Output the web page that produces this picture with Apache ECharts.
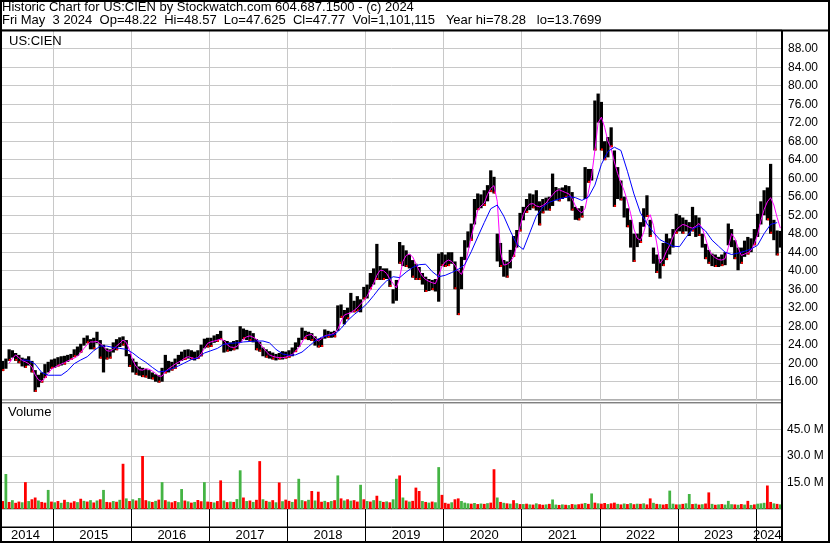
<!DOCTYPE html>
<html>
<head>
<meta charset="utf-8">
<title>US:CIEN historic chart</title>
<script src="https://cdn.jsdelivr.net/npm/echarts@6/dist/echarts.min.js"></script>
<style>
  html, body { margin: 0; padding: 0; background: #fff; }
  #chart { width: 830px; height: 543px; }
</style>
</head>
<body>
<div id="chart"></div>
<script>
// semi-monthly high / low, May 2014 .. Apr 2024 (one row per year)
const high = [
  20.5, 21.0, 23.0, 22.8, 22.2, 21.8, 21.2, 21.0, 21.5, 20.5, 18.5, 17.5, 18.0, 19.8, 20.3, 20.8,
  21.0, 21.3, 21.5, 21.6, 21.8, 22.0, 23.0, 23.6, 24.2, 25.5, 26.0, 25.2, 25.5, 26.8, 25.0, 24.0, 23.2, 23.0, 24.5, 25.2, 25.6, 25.8, 25.0, 22.0,
  21.0, 20.3, 19.3, 19.0, 18.8, 18.5, 18.0, 17.6, 17.4, 19.0, 21.8, 20.5, 20.3, 21.0, 21.8, 22.5, 22.9, 23.0, 22.8, 22.5, 22.8, 24.0, 25.3, 25.5,
  25.5, 26.0, 26.3, 27.0, 25.0, 24.8, 24.5, 24.8, 25.0, 28.0, 27.5, 27.2, 27.0, 26.5, 25.2, 24.6, 23.4, 23.0, 22.6, 22.3, 22.0, 22.2, 22.6, 22.5,
  22.8, 23.4, 24.5, 25.5, 27.7, 27.0, 26.8, 26.5, 25.8, 25.3, 25.5, 27.3, 27.0, 26.8, 27.0, 32.5, 32.7, 31.5, 32.0, 35.2, 33.5, 34.5, 33.8, 36.5,
  37.0, 39.5, 40.5, 45.8, 41.0, 40.5, 40.5, 40.0, 36.0, 38.0, 46.2, 45.5, 44.4, 43.5, 42.3, 41.5, 40.8, 39.5, 38.7, 38.2, 38.0, 38.2, 43.7, 44.0,
  43.5, 44.0, 44.0, 42.0, 40.0, 43.0, 46.6, 48.5, 50.2, 55.5, 56.7, 56.5, 57.4, 58.5, 61.7, 60.3, 48.0, 46.0, 42.3, 42.0, 44.5, 47.5, 48.8, 52.5,
  53.8, 55.5, 56.7, 56.5, 57.4, 55.0, 55.5, 55.8, 56.0, 61.0, 58.1, 57.8, 58.0, 58.5, 58.3, 57.0, 53.8, 53.5, 54.0, 62.4, 62.0, 62.0, 76.8, 78.3,
  76.5, 68.0, 68.9, 71.0, 66.0, 62.4, 59.5, 56.0, 53.5, 51.0, 48.0, 48.0, 50.5, 53.5, 56.3, 51.0, 45.0, 43.5, 42.5, 46.0, 48.0, 47.0, 49.0, 52.3,
  52.0, 51.5, 51.0, 50.5, 53.8, 52.0, 51.5, 48.0, 45.8, 44.5, 43.7, 43.5, 43.0, 43.5, 44.0, 50.2, 49.0, 46.6, 45.0, 45.0, 46.5, 47.3, 47.0, 49.0,
  52.3, 55.0, 57.4, 58.0, 63.1, 51.0, 48.7, 48.6
];
const low = [
  18.3, 18.8, 20.5, 21.2, 20.5, 20.0, 19.3, 19.0, 19.5, 18.0, 13.8, 14.8, 15.8, 16.8, 18.0, 18.8,
  19.0, 19.3, 19.5, 19.7, 20.3, 20.7, 21.3, 21.6, 22.3, 23.8, 24.3, 23.0, 23.0, 24.3, 21.0, 18.0, 20.8, 21.0, 22.3, 22.8, 23.5, 23.8, 21.5, 19.2,
  18.0, 17.5, 17.3, 17.0, 16.9, 16.6, 16.5, 16.0, 15.8, 16.0, 17.8, 18.0, 18.4, 18.8, 19.8, 20.5, 20.7, 21.0, 20.8, 20.6, 20.9, 21.5, 23.2, 23.4,
  23.5, 24.4, 24.6, 25.0, 22.3, 22.5, 22.6, 22.8, 23.0, 24.5, 25.2, 25.0, 24.8, 24.5, 22.8, 22.5, 21.5, 21.2, 21.0, 20.8, 20.6, 20.8, 20.8, 21.0,
  21.2, 21.5, 22.4, 23.5, 25.0, 25.2, 25.0, 24.8, 23.8, 23.4, 23.5, 25.3, 25.5, 25.5, 25.6, 27.0, 29.8, 28.4, 29.5, 31.0, 31.0, 31.2, 31.0, 33.8,
  34.0, 36.0, 37.0, 38.0, 38.0, 38.0, 38.2, 36.5, 32.9, 33.5, 41.5, 41.0, 40.8, 40.5, 38.5, 38.0, 38.0, 37.0, 35.4, 35.6, 35.8, 35.5, 33.3, 41.0,
  40.8, 41.0, 41.5, 36.0, 30.4, 36.0, 42.3, 45.0, 46.5, 50.0, 53.1, 53.5, 54.0, 55.0, 57.0, 56.7, 42.0, 40.8, 38.7, 38.5, 40.5, 43.0, 45.0, 48.5,
  50.9, 52.5, 53.1, 53.5, 53.0, 49.8, 52.4, 53.0, 53.0, 54.0, 55.2, 55.0, 55.5, 55.8, 55.0, 53.0, 51.0, 50.9, 51.5, 55.5, 59.0, 59.5, 66.0, 72.0,
  66.0, 63.9, 64.5, 66.7, 53.8, 55.5, 55.2, 51.5, 49.4, 45.0, 41.9, 45.1, 46.0, 49.5, 51.6, 47.3, 41.5, 39.5, 38.3, 41.0, 42.3, 43.5, 45.0, 48.0,
  48.5, 48.0, 48.5, 47.5, 48.5, 47.3, 47.5, 45.0, 42.5, 41.5, 41.0, 40.8, 40.8, 41.0, 41.2, 45.5, 45.1, 42.5, 40.1, 41.5, 43.0, 43.5, 44.0, 45.5,
  47.3, 50.0, 52.0, 50.9, 48.0, 46.6, 43.3, 45.0
];
// short moving average (magenta), semi-monthly
const maFast = [
  null, null, 20.0, 21.0, 21.8, 21.2, 20.6, 20.3, 19.9, 19.2, 17.5, 16.4, 16.1, 16.7, 17.8, 18.7,
  19.1, 19.5, 19.8, 20.1, 20.5, 20.8, 21.1, 21.5, 22.3, 23.2, 24.0, 24.6, 24.6, 24.7, 24.2, 23.6, 22.7, 22.6, 23.0, 23.7, 24.3, 25.0, 24.5, 22.8,
  20.6, 19.3, 18.6, 18.5, 18.8, 18.7, 18.3, 17.8, 17.2, 17.2, 18.2, 18.8, 19.3, 19.8, 20.2, 20.6, 21.1, 21.4, 21.2, 21.0, 21.2, 22.0, 23.2, 24.3,
  24.6, 24.8, 25.0, 25.2, 24.9, 24.0, 23.5, 23.4, 23.6, 24.4, 25.2, 25.7, 25.9, 25.6, 25.2, 24.3, 23.4, 22.5, 21.8, 21.5, 21.3, 21.2, 21.2, 21.3,
  21.6, 21.9, 22.6, 23.4, 24.5, 25.8, 26.1, 26.2, 25.4, 24.8, 25.3, 25.9, 26.1, 26.2, 26.6, 27.3, 29.0, 30.4, 30.7, 30.9, 31.4, 32.0, 32.8, 33.5,
  34.5, 35.9, 37.2, 39.0, 40.1, 40.0, 39.4, 38.2, 37.2, 36.3, 38.5, 42.0, 43.3, 43.6, 43.0, 41.5, 40.0, 38.8, 38.1, 37.7, 37.4, 37.2, 39.0, 40.9,
  41.9, 42.3, 42.0, 41.2, 40.0, 39.2, 41.0, 44.0, 47.3, 50.0, 53.1, 54.0, 54.6, 56.5, 57.8, 58.4, 55.0, 44.0, 41.2, 41.4, 41.9, 43.0, 45.5, 49.5,
  52.2, 53.7, 54.4, 54.5, 54.0, 53.8, 54.1, 54.6, 55.6, 56.4, 57.2, 57.5, 57.2, 56.9, 56.6, 55.6, 54.0, 53.0, 52.5, 53.5, 57.0, 60.5, 66.0, 72.0,
  73.2, 71.0, 68.0, 66.4, 63.5, 61.0, 59.0, 57.3, 55.0, 52.3, 49.0, 47.0, 46.6, 48.3, 50.9, 52.1, 49.8, 46.0, 41.6, 42.5, 44.2, 45.5, 47.3, 48.8,
  49.5, 50.0, 49.8, 49.4, 49.2, 49.6, 50.2, 49.2, 47.0, 44.6, 43.4, 42.8, 42.4, 42.3, 42.6, 45.0, 48.0, 47.0, 45.0, 43.3, 43.6, 43.9, 44.4, 45.8,
  47.8, 50.8, 53.2, 54.9, 55.8, 54.2, 51.5, 49.2
];
// long moving average (blue), one value per month (1st of month)
const maSlow = [
  null, null, null, 20.7, 20.6, 19.8, 18.0, 17.4,
  17.4, 17.4, 18.4, 19.9, 20.7, 21.4, 22.7, 23.7, 23.7, 23.4, 23.2, 23.0,
  22.2, 21.1, 20.2, 19.1, 18.1, 18.3, 18.8, 19.4, 20.1, 20.8, 21.1, 22.2,
  22.7, 23.2, 24.1, 24.3, 24.4, 24.6, 24.7, 24.8, 24.8, 24.4, 23.0, 22.0,
  21.7, 21.8, 22.4, 23.6, 24.8, 25.6, 26.0, 26.2, 27.5, 29.2, 30.5, 31.6,
  32.9, 34.6, 36.4, 37.8, 38.7, 38.5, 39.7, 40.7, 41.3, 41.4, 39.8, 38.7,
  39.0, 39.6, 40.3, 41.3, 44.1, 47.3, 50.4, 53.4, 54.2, 51.8, 48.6, 45.7,
  44.6, 48.2, 51.8, 53.8, 54.8, 55.3, 55.7, 56.0, 55.8, 55.2, 55.9, 58.5,
  63.0, 65.8, 66.7, 66.0, 61.5, 56.6, 52.5, 50.2, 48.3, 46.7, 46.0, 45.3,
  45.2, 47.2, 49.0, 49.7, 48.6, 46.6, 45.3, 44.0, 43.5, 43.8, 44.2, 44.7,
  45.5, 48.0, 50.0, 50.4
];
// volume in millions, semi-monthly, and up (g) / down (r) flag
const volume = [
  4.5, 19.8, 4.0, 5.0, 3.5, 4.2, 3.8, 15.2, 4.5, 5.5, 6.5, 4.8, 4.0, 3.6, 10.8, 4.2,
  3.8, 4.5, 3.5, 5.2, 4.0, 3.6, 4.4, 3.9, 5.8, 4.6, 4.2, 5.0, 3.7, 4.8, 5.5, 10.8, 4.0, 3.8, 4.5, 4.1, 5.2, 25.6, 6.0, 4.5,
  5.5, 4.8, 6.2, 30.0, 5.0, 4.4, 4.0, 4.6, 5.3, 15.2, 5.0, 4.2, 3.8, 4.5, 3.9, 11.3, 4.8, 4.3, 3.6, 4.0, 5.1, 4.4, 15.2, 4.2,
  4.0, 3.7, 4.5, 16.2, 4.8, 3.9, 4.2, 4.0, 5.6, 21.9, 6.5, 4.5, 4.8, 4.0, 5.2, 27.1, 5.5, 4.6, 4.1, 5.0, 3.8, 15.0, 4.4, 5.3,
  4.6, 4.0, 5.5, 17.1, 5.0, 4.4, 5.2, 10.2, 4.8, 9.8, 4.1, 4.6, 3.9, 4.5, 5.0, 19.0, 6.0, 4.8, 5.5, 4.7, 5.0, 4.2, 13.7, 5.5,
  4.5, 4.2, 5.0, 7.5, 4.6, 4.0, 4.3, 3.8, 5.5, 17.1, 19.0, 6.5, 4.8, 4.2, 4.6, 12.1, 10.2, 4.5, 4.0, 3.6, 4.2, 3.8, 23.7, 8.0,
  3.5, 3.0, 3.8, 5.5, 6.0, 4.5, 3.6, 3.2, 3.0, 3.4, 2.8, 3.1, 2.9, 3.3, 3.6, 22.5, 6.5, 4.0, 3.5, 3.2, 3.0, 5.0, 3.3, 2.8,
  2.8, 3.0, 2.6, 2.5, 3.2, 2.7, 2.4, 2.6, 2.9, 5.4, 2.5, 2.3, 2.6, 2.4, 2.2, 2.8, 2.5, 2.7, 3.0, 3.4, 2.9, 8.8, 3.6, 3.2,
  3.0, 3.4, 2.8, 3.2, 3.6, 2.9, 2.6, 3.1, 2.8, 3.3, 2.7, 3.0, 2.9, 3.2, 2.6, 6.0, 3.5, 2.9, 2.7, 2.5, 2.8, 10.4, 3.0, 2.6,
  2.6, 2.9, 3.2, 8.5, 2.8, 3.0, 2.5, 2.7, 3.1, 9.4, 2.9, 2.4, 2.6, 2.8, 2.5, 4.6, 2.7, 2.6, 2.4, 2.8, 2.5, 4.6, 2.3, 2.6,
  3.0, 3.2, 3.5, 13.3, 4.0, 3.2, 2.9, 2.6
];
const volumeSide =
  'rgrgrrgrgrrgrrgr' +
  'grgrgrrgrgrgrgrgrrgrgrgr' +
  'grgrrgrgrgrgrrggrgrgrrgr' +
  'rgrrgrgrggrgrgrrgrgrgrgr' +
  'rgrggrgrgrrgrgrgrgrgrrgr' +
  'grgrgrgrggrgrgrrrgrgrggr' +
  'rrgrrgggrgrgrgrrgrgrgrgr' +
  'grgrgrrgrggrgrgrgrrgrgrg' +
  'rrgrrgrgrgrgrgrrgrgrrggr' +
  'grggrgrgrrgrgrgggrgrgrgr' +
  'gggrrgrg';
const yearLabelDates = ['2014-08-16', '2015-07-01', '2016-07-01', '2017-07-01', '2018-07-01',
  '2019-07-01', '2020-07-01', '2021-07-01', '2022-07-01', '2023-07-01', '2024-02-16'];

// category axis: 1st and 16th of each month
const dates = [];
for (let y = 2014; y <= 2024; y++) {
  for (let m = 1; m <= 12; m++) {
    if ((y === 2014 && m < 5) || (y === 2024 && m > 4)) continue;
    const mm = String(m).padStart(2, '0');
    dates.push(y + '-' + mm + '-01', y + '-' + mm + '-16');
  }
}

const FONT = 'Liberation Sans, Arial, sans-serif';
const GRIDLINE = '#c8c8c8';
const isYearStart = (i, v) => v.slice(5) === '01-01';

const chart = echarts.init(document.getElementById('chart'));

function plainX(gridIndex, lineColor) {
  return {
    type: 'category', gridIndex, data: dates, boundaryGap: true,
    axisLine: { show: false }, axisTick: { show: false }, axisLabel: { show: false },
    splitLine: { show: true, interval: isYearStart, lineStyle: { color: lineColor, width: 1 } }
  };
}

chart.setOption({
  animation: false,
  backgroundColor: '#fff',
  textStyle: { fontFamily: FONT },
  title: [
    {
      text: 'Historic Chart for US:CIEN by Stockwatch.com 604.687.1500 - (c) 2024',
      left: 2, top: 1, padding: 0,
      textStyle: { fontSize: 13, fontWeight: 'normal', color: '#000', fontFamily: FONT }
    },
    {
      text: 'Fri May  3 2024  Op=48.22  Hi=48.57  Lo=47.625  Cl=47.77  Vol=1,101,115   Year hi=78.28   lo=13.7699',
      left: 2, top: 14, padding: 0,
      textStyle: { fontSize: 13, fontWeight: 'normal', color: '#000', fontFamily: FONT }
    },
    {
      text: 'US:CIEN', left: 9, top: 35, padding: 0,
      textStyle: { fontSize: 13, fontWeight: 'normal', color: '#000', fontFamily: FONT }
    },
    {
      text: 'Volume', left: 8, top: 406, padding: 0,
      textStyle: { fontSize: 13, fontWeight: 'normal', color: '#000', fontFamily: FONT }
    }
  ],
  grid: [
    { left: 1, top: 30.2, width: 781, height: 370, show: true, borderColor: '#000', borderWidth: 1 },
    { left: 1, top: 403, width: 781, height: 106, show: true, borderColor: '#000', borderWidth: 1 },
    { left: 1, top: 509, width: 781, height: 18, show: true, borderColor: '#000', borderWidth: 1 }
  ],
  xAxis: [
    plainX(0, GRIDLINE),
    plainX(1, GRIDLINE),
    Object.assign(plainX(2, '#000'), {
      axisLine: { show: true, lineStyle: { color: '#000', width: 1 } },
      axisTick: { show: true, interval: isYearStart, length: 14, lineStyle: { color: '#000', width: 1 } },
      axisLabel: {
        show: true, interval: (i, v) => yearLabelDates.includes(v),
        formatter: v => v.slice(0, 4), margin: 2, fontSize: 13, color: '#000', fontFamily: FONT
      }
    })
  ],
  yAxis: [
    {
      type: 'value', gridIndex: 0, position: 'right', min: 12, max: 92, interval: 4,
      axisLine: { show: false }, axisTick: { show: false },
      splitLine: { show: true, lineStyle: { color: GRIDLINE, width: 1 } },
      axisLabel: {
        formatter: v => v.toFixed(2), showMinLabel: false, showMaxLabel: false,
        margin: 6, fontSize: 12, color: '#000', fontFamily: FONT
      }
    },
    {
      type: 'value', gridIndex: 1, position: 'right', min: 0, max: 60, interval: 15,
      axisLine: { show: false }, axisTick: { show: false },
      splitLine: { show: true, lineStyle: { color: GRIDLINE, width: 1 } },
      axisLabel: {
        formatter: v => v.toFixed(1) + ' M', showMinLabel: false, showMaxLabel: false,
        margin: 5, fontSize: 12, color: '#000', fontFamily: FONT
      }
    },
    { type: 'value', gridIndex: 2, min: 0, max: 1, show: false }
  ],
  series: [
    {
      type: 'custom', name: 'Price', xAxisIndex: 0, yAxisIndex: 0,
      data: high.map((h, i) => [i, low[i], h]),
      renderItem: function (params, api) {
        const i = api.value(0);
        const top = api.coord([i, api.value(2)]);
        const bottom = api.coord([i, api.value(1)]);
        const w = api.size([1, 0])[0];
        const x = top[0] - w / 2;
        const children = [{
          type: 'rect',
          shape: { x: x, y: top[1], width: w, height: Math.max(1, bottom[1] - top[1]) },
          style: { fill: '#000' }
        }];
        if (volumeSide[i] === 'r') {
          children.push({
            type: 'rect',
            shape: { x: x + w - 2, y: bottom[1] - 2, width: 2, height: 2 },
            style: { fill: '#ff0000' }
          });
        }
        return { type: 'group', children: children };
      }
    },
    {
      type: 'line', name: 'MA short', xAxisIndex: 0, yAxisIndex: 0,
      data: maFast, showSymbol: false, connectNulls: false,
      lineStyle: { color: '#ff00ff', width: 1 }
    },
    {
      type: 'line', name: 'MA long', xAxisIndex: 0, yAxisIndex: 0,
      data: maSlow.map((v, k) => [2 * k, v]), showSymbol: false,
      lineStyle: { color: '#0000ff', width: 1 }
    },
    {
      type: 'bar', name: 'Volume', xAxisIndex: 1, yAxisIndex: 1,
      barCategoryGap: '15%',
      data: volume.map((v, i) => ({
        value: v,
        itemStyle: { color: volumeSide[i] === 'g' ? '#44b444' : '#ff0000' }
      }))
    }
  ],
  graphic: [
    { type: 'rect', shape: { x: 1, y: 1, width: 828, height: 541 }, style: { fill: 'none', stroke: '#000', lineWidth: 2 }, z: 100 },
    { type: 'line', shape: { x1: 0, y1: 30.5, x2: 830, y2: 30.5 }, style: { stroke: '#000', lineWidth: 2 }, z: 100 },
    { type: 'line', shape: { x1: 782, y1: 30, x2: 782, y2: 543 }, style: { stroke: '#000', lineWidth: 2 }, z: 100 }
  ]
});
</script>
</body>
</html>
